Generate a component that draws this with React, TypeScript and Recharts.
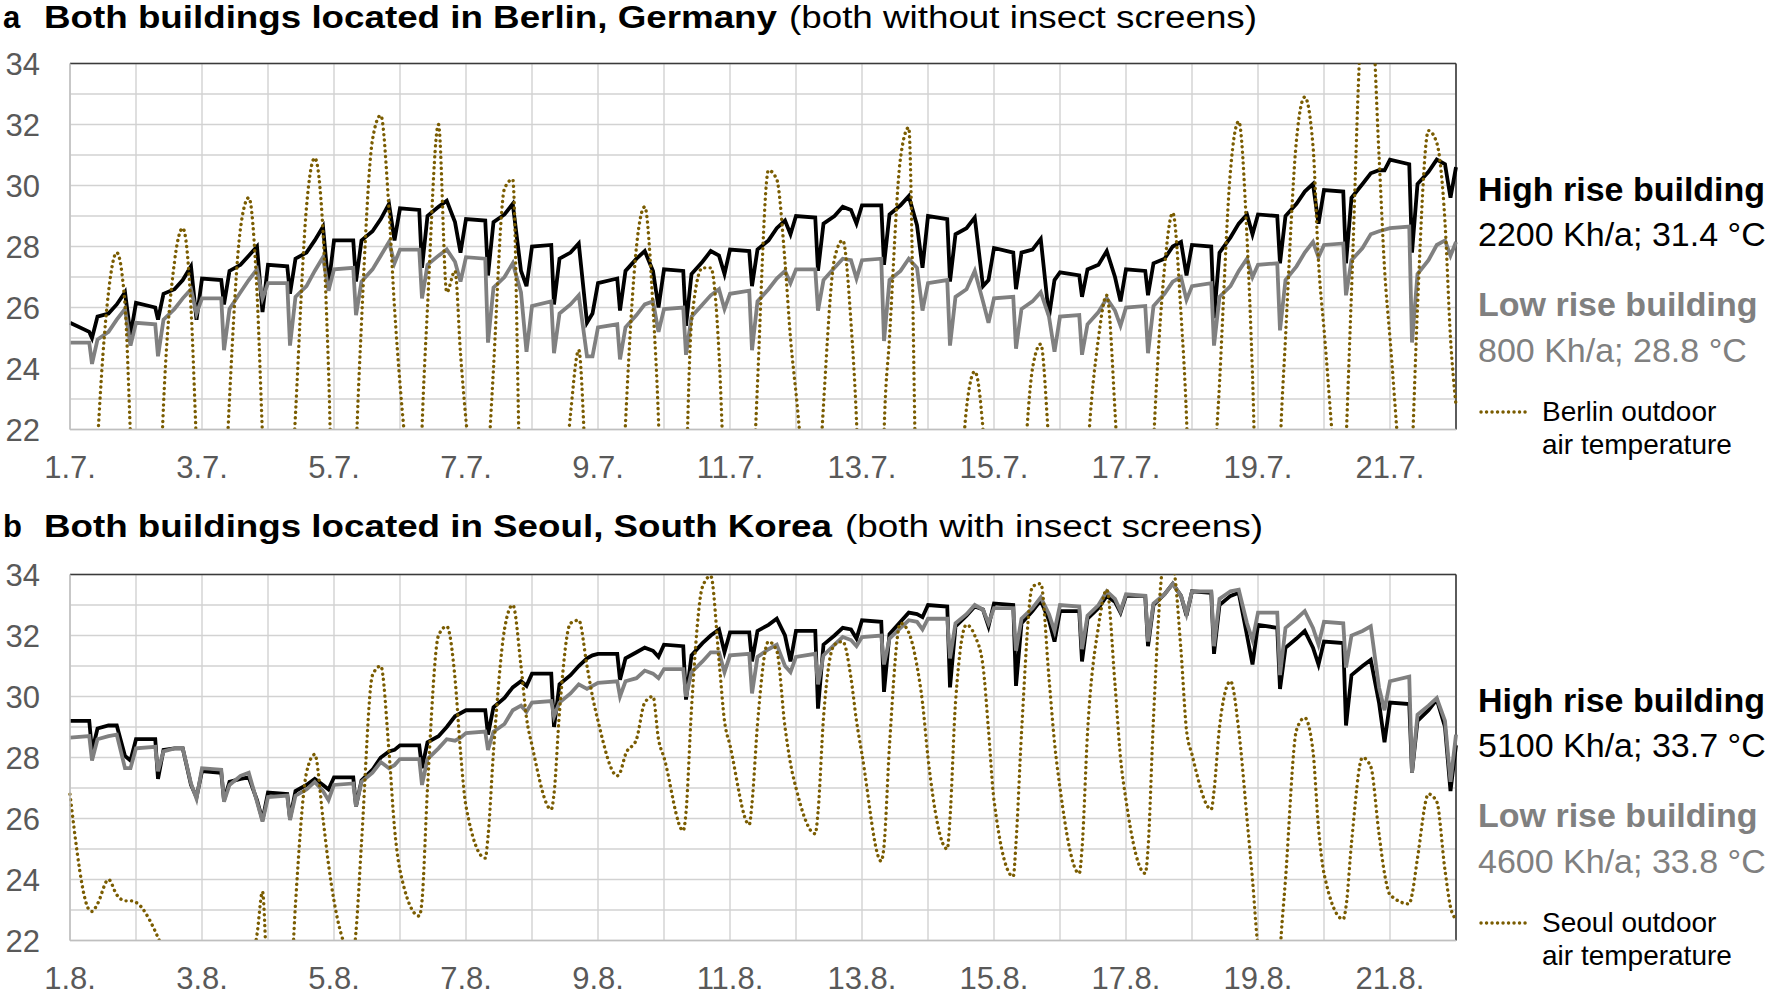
import React from "react";
import { LineChart, Line, XAxis, YAxis, CartesianGrid, ReferenceLine } from "recharts";

const FONT = "'Liberation Sans', Arial, sans-serif";

// sample hours within each day (values below are read at these hours)
const HOURS = [0, 7, 8, 10, 14, 17, 20, 22];
const DAY_GRID = [0, 1, 2, 3, 4, 5, 6, 7, 8, 9, 10, 11, 12, 13, 14, 15, 16, 17, 18, 19, 20, 21];
const Y_TICKS = [22, 23, 24, 25, 26, 27, 28, 29, 30, 31, 32, 33, 34];
const JULY_LABELS = ["1.7.", "3.7.", "5.7.", "7.7.", "9.7.", "11.7.", "13.7.", "15.7.", "17.7.", "19.7.", "21.7."];
const AUGUST_LABELS = ["1.8.", "3.8.", "5.8.", "7.8.", "9.8.", "11.8.", "13.8.", "15.8.", "17.8.", "19.8.", "21.8."];

// a: Berlin
const BERLIN_HIGH = [
  25.5, 25.2, 25.0, 25.7, 25.8, 26.1, 26.5, 25.1,
  26.15, 26.0, 25.6, 26.45, 26.6, 26.9, 27.35, 25.6,
  26.95, 26.9, 26.1, 27.2, 27.4, 27.7, 28.0, 25.85,
  27.4, 27.35, 26.45, 27.6, 27.8, 28.2, 28.65, 26.7,
  28.2, 28.2, 26.85, 28.2, 28.5, 28.9, 29.4, 28.2,
  29.25, 29.2, 27.3, 29.0, 29.3, 29.5, 28.8, 27.8,
  28.9, 28.85, 27.05, 28.8, 29.05, 29.4, 27.2, 26.7,
  28.0, 28.05, 26.1, 27.6, 27.8, 28.1, 25.5, 25.8,
  26.8, 26.95, 25.9, 27.2, 27.6, 27.85, 27.2, 26.0,
  27.25, 27.2, 25.4, 27.1, 27.5, 27.85, 27.7, 27.1,
  27.9, 27.85, 26.7, 27.9, 28.2, 28.6, 28.85, 28.4,
  29.0, 28.95, 27.2, 28.75, 29.0, 29.3, 29.2, 28.75,
  29.35, 29.35, 27.4, 29.05, 29.35, 29.65, 28.7, 27.3,
  29.0, 28.9, 26.85, 28.4, 28.6, 28.95, 26.7, 26.9,
  27.95, 27.8, 26.6, 27.8, 27.9, 28.25, 25.7, 26.9,
  27.15, 27.05, 26.35, 27.25, 27.4, 27.85, 27.0, 26.2,
  27.25, 27.2, 26.4, 27.45, 27.6, 28.0, 28.15, 27.05,
  28.05, 28.0, 25.65, 27.8, 28.3, 28.75, 29.05, 28.4,
  29.05, 29.0, 27.45, 29.0, 29.4, 29.8, 30.05, 28.75,
  29.85, 29.8, 27.45, 29.6, 30.05, 30.4, 30.5, 30.5,
  30.85, 30.7, 27.8, 30.05, 30.45, 30.85, 30.7, 29.6,
  30.6,
];
const BERLIN_LOW = [
  24.85, 24.85, 24.15, 24.95, 25.2, 25.6, 25.95, 24.75,
  25.5, 25.45, 24.4, 25.6, 25.95, 26.3, 26.6, 25.8,
  26.3, 26.3, 24.6, 25.95, 26.5, 26.9, 27.25, 26.3,
  26.8, 26.8, 24.75, 26.35, 26.7, 27.2, 27.65, 26.55,
  27.25, 27.3, 25.75, 26.85, 27.25, 27.7, 28.15, 27.45,
  27.9, 27.9, 26.3, 27.4, 27.7, 27.9, 27.5, 26.85,
  27.65, 27.6, 24.85, 26.65, 27.0, 27.45, 26.5, 24.55,
  26.05, 26.2, 24.5, 25.8, 26.1, 26.4, 24.4, 24.4,
  25.35, 25.45, 24.3, 25.35, 25.75, 26.1, 26.2, 25.2,
  25.95, 26.0, 24.45, 25.7, 26.1, 26.4, 26.6, 25.95,
  26.45, 26.55, 24.6, 26.2, 26.6, 26.95, 27.2, 26.8,
  27.25, 27.25, 25.9, 26.9, 27.3, 27.6, 27.55, 26.95,
  27.55, 27.6, 24.9, 26.9, 27.2, 27.6, 27.3, 25.9,
  26.8, 26.9, 24.75, 26.35, 26.6, 27.2, 26.2, 25.5,
  26.3, 26.35, 24.65, 25.95, 26.2, 26.5, 25.7, 24.55,
  25.7, 25.75, 24.45, 25.45, 25.85, 26.3, 25.9, 25.4,
  26.0, 26.05, 24.5, 26.05, 26.45, 26.85, 27.0, 26.25,
  26.7, 26.8, 24.75, 26.35, 26.7, 27.2, 27.6, 27.0,
  27.4, 27.45, 25.25, 26.9, 27.35, 27.8, 28.15, 27.65,
  28.05, 28.1, 26.4, 27.55, 27.95, 28.4, 28.5, 28.55,
  28.6, 28.65, 24.85, 27.1, 27.55, 28.05, 28.2, 27.7,
  28.15,
];
const BERLIN_OUT = [
  17.5, 16.5, 17.5, 21.5, 26.5, 27.8, 26.1, 21.8,
  17.5, 16.5, 18.0, 22.8, 27.5, 28.6, 26.0, 21.5,
  17.5, 17.0, 19.0, 23.0, 28.6, 29.6, 26.5, 21.8,
  17.5, 17.0, 19.0, 22.5, 29.3, 30.9, 28.5, 24.0,
  18.0, 17.5, 21.0, 25.5, 31.5, 32.3, 29.2, 26.0,
  23.5, 19.0, 22.0, 26.0, 32.0, 26.5, 27.2, 24.5,
  22.3, 18.0, 20.5, 24.0, 29.9, 30.2, 19.0, 17.0,
  17.0, 16.0, 16.5, 18.0, 22.5, 24.6, 20.0, 18.0,
  17.0, 16.5, 18.0, 22.2, 28.0, 29.3, 26.0, 22.3,
  16.0, 16.0, 20.0, 25.5, 27.3, 27.3, 24.5, 20.0,
  16.0, 16.5, 19.0, 23.5, 30.5, 30.2, 27.5, 25.0,
  23.2, 17.5, 19.5, 22.8, 27.6, 28.2, 25.5, 22.3,
  17.0, 17.0, 21.8, 25.0, 30.9, 31.9, 19.0, 17.0,
  16.0, 15.5, 16.0, 17.5, 22.7, 23.9, 22.0, 19.0,
  16.0, 15.0, 15.5, 19.0, 24.0, 24.8, 21.5, 19.0,
  16.5, 16.0, 17.0, 21.0, 25.0, 26.4, 22.6, 19.0,
  16.5, 16.0, 17.0, 21.5, 27.3, 29.1, 25.8, 22.4,
  16.5, 17.0, 20.0, 23.5, 30.5, 32.1, 28.3, 23.8,
  18.0, 18.0, 21.2, 25.0, 31.5, 32.9, 31.3, 27.5,
  25.3, 19.0, 21.5, 26.5, 35.5, 36.0, 31.0, 27.3,
  25.0, 18.5, 21.0, 26.0, 31.8, 31.4, 28.8, 25.0,
  22.8,
];

// b: Seoul
const SEOUL_HIGH = [
  29.2, 29.2, 28.2, 28.95, 29.05, 29.05, 28.05, 27.9,
  28.6, 28.6, 27.3, 28.25, 28.3, 28.3, 27.1, 26.7,
  27.55, 27.5, 26.6, 27.2, 27.3, 27.35, 26.6, 25.95,
  26.85, 26.8, 26.0, 26.9, 27.1, 27.3, 27.1, 26.95,
  27.35, 27.35, 26.4, 27.25, 27.6, 28.0, 28.2, 28.25,
  28.4, 28.4, 27.65, 28.5, 28.7, 29.0, 29.35, 29.45,
  29.55, 29.55, 28.75, 29.65, 29.95, 30.3, 30.5, 30.35,
  30.75, 30.75, 29.0, 30.4, 30.7, 31.0, 31.25, 31.35,
  31.4, 31.4, 30.55, 31.25, 31.45, 31.6, 31.5, 31.3,
  31.7, 31.65, 29.9, 31.35, 31.75, 32.0, 32.2, 31.45,
  32.1, 32.1, 31.15, 32.15, 32.35, 32.55, 32.0, 31.15,
  32.15, 32.15, 29.6, 31.7, 32.0, 32.25, 32.2, 31.9,
  32.5, 32.45, 30.15, 32.05, 32.45, 32.75, 32.7, 32.6,
  33.0, 32.95, 30.3, 32.3, 32.65, 32.95, 32.85, 32.3,
  33.05, 33.0, 30.35, 32.4, 32.8, 33.15, 32.5, 31.8,
  32.8, 32.8, 31.15, 32.55, 32.9, 33.3, 33.1, 32.75,
  33.3, 33.3, 31.65, 33.0, 33.35, 33.7, 33.3, 32.65,
  33.45, 33.4, 31.4, 33.0, 33.3, 33.4, 32.0, 31.05,
  32.35, 32.25, 30.25, 31.6, 31.9, 32.15, 31.6, 31.05,
  31.8, 31.75, 29.05, 30.7, 31.0, 31.2, 29.8, 28.5,
  29.8, 29.75, 27.5, 29.2, 29.55, 29.9, 29.0, 26.9,
  28.4,
];
const SEOUL_LOW = [
  28.65, 28.7, 27.9, 28.6, 28.7, 28.75, 27.65, 27.65,
  28.3, 28.35, 27.55, 28.2, 28.3, 28.3, 27.15, 26.65,
  27.65, 27.6, 26.55, 27.1, 27.4, 27.5, 26.55, 25.9,
  26.7, 26.75, 25.95, 26.75, 26.95, 27.2, 26.9, 26.6,
  27.1, 27.15, 26.4, 27.2, 27.5, 27.85, 27.65, 27.75,
  27.95, 27.95, 27.1, 27.95, 28.3, 28.6, 28.55, 28.65,
  28.8, 28.85, 28.25, 28.85, 29.1, 29.55, 29.7, 29.5,
  29.8, 29.85, 29.35, 29.8, 30.1, 30.4, 30.25, 30.35,
  30.45, 30.5, 30.0, 30.5, 30.6, 30.85, 30.75, 30.6,
  30.9, 30.9, 30.0, 30.8, 31.15, 31.45, 31.45, 30.8,
  31.35, 31.4, 30.1, 31.3, 31.55, 31.7, 31.0, 30.8,
  31.3, 31.4, 30.4, 31.35, 31.7, 31.95, 31.85, 31.65,
  31.95, 32.0, 31.05, 31.9, 32.25, 32.5, 32.45, 32.2,
  32.55, 32.55, 31.25, 32.4, 32.7, 33.0, 32.85, 32.4,
  32.9, 32.9, 31.5, 32.55, 32.9, 33.25, 32.7, 32.15,
  33.0, 32.95, 31.55, 32.65, 33.0, 33.45, 33.2, 32.8,
  33.35, 33.3, 31.8, 33.05, 33.35, 33.7, 33.3, 32.7,
  33.45, 33.45, 31.65, 33.2, 33.45, 33.5, 32.4, 31.85,
  32.75, 32.75, 30.7, 32.25, 32.55, 32.8, 32.25, 31.7,
  32.45, 32.4, 30.95, 32.0, 32.15, 32.3, 30.3, 29.55,
  30.5, 30.65, 27.5, 29.4, 29.7, 29.95, 29.2, 27.2,
  28.75,
];
const SEOUL_OUT = [
  26.8, 23.0, 22.95, 23.2, 24.0, 23.5, 23.3, 23.3,
  23.25, 22.3, 22.1, 21.7, 21.0, 20.5, 20.5, 20.5,
  20.5, 20.0, 20.0, 20.5, 21.0, 21.0, 22.2, 23.6,
  20.5, 19.5, 20.0, 23.2, 27.5, 28.1, 26.0, 24.5,
  23.3, 21.5, 22.3, 25.2, 30.7, 31.0, 28.2, 25.7,
  24.3, 22.8, 23.3, 27.0, 32.0, 32.3, 30.6, 28.2,
  26.4, 24.7, 25.4, 28.2, 32.2, 33.0, 31.0, 29.3,
  28.4, 26.3, 26.8, 29.5, 32.4, 32.5, 31.0, 30.0,
  29.2, 27.4, 27.5, 28.1, 28.6, 29.8, 30.0, 28.6,
  28.0, 25.6, 26.2, 29.6, 33.6, 33.95, 31.2, 29.2,
  28.4, 25.8, 26.5, 29.1, 31.8, 31.5, 29.0, 27.8,
  27.0, 25.5, 26.2, 29.3, 31.7, 31.8, 30.6, 29.2,
  28.1, 24.6, 25.1, 28.4, 32.4, 32.1, 31.0, 29.8,
  28.0, 25.0, 26.0, 29.8, 32.35, 32.0, 31.0, 28.9,
  26.6, 24.1, 25.2, 28.8, 33.6, 33.7, 30.6, 28.5,
  27.0, 24.2, 25.0, 28.8, 32.3, 33.5, 30.4, 28.0,
  26.6, 24.2, 25.0, 29.3, 34.5, 34.3, 31.5, 28.9,
  28.1, 26.3, 26.9, 29.0, 30.5, 28.9, 26.0, 24.0,
  21.8, 19.5, 21.5, 24.0, 28.9, 29.3, 28.2, 25.7,
  24.2, 22.7, 23.1, 25.2, 28.0, 27.7, 25.5, 24.2,
  23.5, 23.2, 23.5, 24.7, 26.8, 26.55, 24.3, 23.1,
  22.7,
];

function buildRows(high: number[], low: number[], out: number[]) {
  return high.map((v, i) => ({
    t: Math.floor(i / HOURS.length) + HOURS[i % HOURS.length] / 24,
    high: v,
    low: low[i],
    out: out[i],
  }));
}

const berlinRows = buildRows(BERLIN_HIGH, BERLIN_LOW, BERLIN_OUT);
const seoulRows = buildRows(SEOUL_HIGH, SEOUL_LOW, SEOUL_OUT);

const tickStyle = { fill: "#595959", fontSize: 31, fontFamily: FONT };

function Panel({ rows, labels, top }: { rows: any[]; labels: string[]; top: number }) {
  return (
    <div style={{ position: "absolute", left: 0, top, width: 1460, height: 490 }}>
      <LineChart width={1460} height={490} data={rows} margin={{ top: 63.5, right: 4, bottom: 15.5, left: 8 }}>
        <CartesianGrid stroke="#d2d2d2" strokeWidth={1.4} />
        <XAxis
          type="number"
          dataKey="t"
          domain={[0, 21]}
          ticks={DAY_GRID}
          interval={0}
          tickFormatter={(v) => (v % 2 === 0 ? labels[v / 2] ?? "" : "")}
          tick={tickStyle}
          tickLine={false}
          tickSize={0}
          tickMargin={26}
          height={45}
          axisLine={{ stroke: "#bfbfbf", strokeWidth: 1.5 }}
        />
        <YAxis
          type="number"
          domain={[22, 34]}
          ticks={Y_TICKS}
          interval={0}
          allowDataOverflow
          tickFormatter={(v) => (v % 2 === 0 ? String(v) : "")}
          tick={tickStyle}
          tickLine={false}
          tickSize={0}
          tickMargin={30}
          width={62}
          axisLine={{ stroke: "#bfbfbf", strokeWidth: 1.5 }}
        />
        <ReferenceLine y={34} stroke="#3a3a3a" strokeWidth={1.6} />
        <ReferenceLine x={21} stroke="#3a3a3a" strokeWidth={1.6} />
        <Line type="linear" dataKey="high" stroke="#000000" strokeWidth={3.8} dot={false} isAnimationActive={false} />
        <Line type="linear" dataKey="low" stroke="#808080" strokeWidth={3.8} dot={false} isAnimationActive={false} />
        <Line
          type="monotone"
          dataKey="out"
          stroke="#7a5c00"
          strokeWidth={3.4}
          strokeDasharray="0.1 5.4"
          strokeLinecap="round"
          dot={false}
          isAnimationActive={false}
        />
      </LineChart>
    </div>
  );
}

function Legend({ dy, high, low, city }: { dy: number; high: string; low: string; city: string }) {
  return (
    <g fontFamily={FONT}>
      <text x={1478} y={201 + dy} fontSize={34} fontWeight="bold" fill="#000">High rise building</text>
      <text x={1478} y={246 + dy} fontSize={34} fill="#000">{high}</text>
      <text x={1478} y={316 + dy} fontSize={34} fontWeight="bold" fill="#808080">Low rise building</text>
      <text x={1478} y={362 + dy} fontSize={34} fill="#808080">{low}</text>
      <line x1={1481} x2={1527} y1={412 + dy} y2={412 + dy} stroke="#7a5c00" strokeWidth={3.4} strokeDasharray="0.1 5.4" strokeLinecap="round" />
      <text x={1542} y={421 + dy} fontSize={28} fill="#000">{city} outdoor</text>
      <text x={1542} y={454 + dy} fontSize={28} fill="#000">air temperature</text>
    </g>
  );
}

export default function App() {
  return (
    <div style={{ position: "relative", width: 1770, height: 996, overflow: "hidden", background: "#fff" }}>
      <style>{"body{margin:0;overflow:hidden}"}</style>
      <Panel rows={berlinRows} labels={JULY_LABELS} top={0} />
      <Panel rows={seoulRows} labels={AUGUST_LABELS} top={511} />
      <svg width={1770} height={996} style={{ position: "absolute", left: 0, top: 0, pointerEvents: "none" }}>
        <g fontFamily={FONT} fontSize={31} fill="#000">
          <text x={3} y={28} fontWeight="bold">a</text>
          <text x={44} y={28} fontWeight="bold" textLength={733} lengthAdjust="spacingAndGlyphs">
            Both buildings located in Berlin, Germany
          </text>
          <text x={789} y={28} textLength={468} lengthAdjust="spacingAndGlyphs">(both without insect screens)</text>
          <text x={3} y={537} fontWeight="bold">b</text>
          <text x={44} y={537} fontWeight="bold" textLength={788} lengthAdjust="spacingAndGlyphs">
            Both buildings located in Seoul, South Korea
          </text>
          <text x={845} y={537} textLength={418} lengthAdjust="spacingAndGlyphs">(both with insect screens)</text>
        </g>
        <Legend dy={0} high="2200 Kh/a; 31.4 °C" low="800 Kh/a; 28.8 °C" city="Berlin" />
        <Legend dy={511} high="5100 Kh/a; 33.7 °C" low="4600 Kh/a; 33.8 °C" city="Seoul" />
      </svg>
    </div>
  );
}
